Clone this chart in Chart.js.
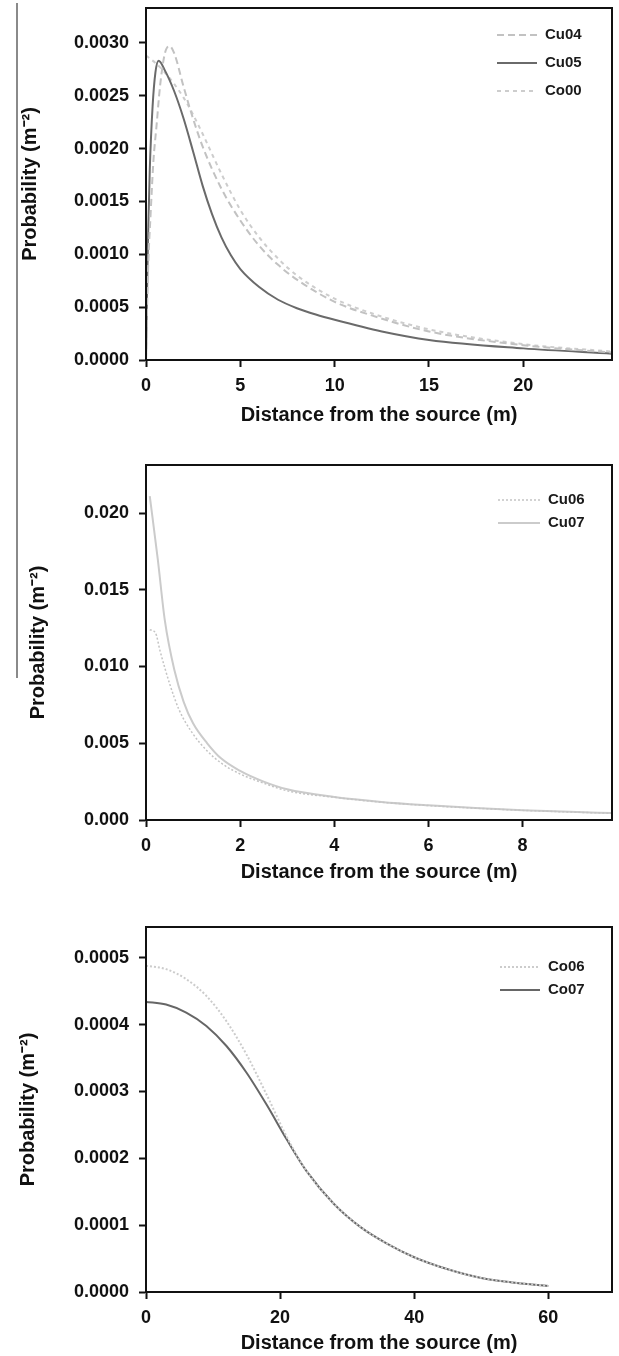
<!DOCTYPE html>
<html>
<head>
<meta charset="utf-8">
<script src="https://cdn.jsdelivr.net/npm/chart.js@4.4.0/dist/chart.umd.min.js"></script>
<style>
  body { margin: 0; background: #fff; width: 619px; height: 1356px; position: relative; overflow: hidden; }
  canvas { position: absolute; left: 0; }
  .rule { position: absolute; left: 16px; top: 3px; width: 2px; height: 675px; background: #8a8a8a; }
</style>
</head>
<body>
<div class="rule"></div>
<canvas id="c1" width="619" height="440" style="top:0"></canvas>
<canvas id="c2" width="619" height="460" style="top:440px"></canvas>
<canvas id="c3" width="619" height="456" style="top:900px"></canvas>
<script>
// panel 1
var distCu04 = [0, 0.1, 0.25, 0.4, 0.55, 0.75, 1.0, 1.25, 1.5, 2, 2.5, 3, 4, 5, 6, 7, 8, 10, 12, 15, 20, 24.7];
var probCu04 = [0, 0.0008, 0.0014, 0.0019, 0.0022, 0.0026, 0.0029, 0.00297, 0.0029, 0.00258, 0.00228, 0.00202, 0.00162, 0.00132, 0.00108, 0.0009, 0.00076, 0.00055, 0.00042, 0.00027, 0.00014, 0.00007];
var distCu05 = [0, 0.1, 0.2, 0.35, 0.5, 0.67, 1, 1.5, 2, 2.5, 3, 3.5, 4, 4.5, 5, 6, 7, 8, 9, 10, 12.5, 15, 20, 24.7];
var probCu05 = [0, 0.0011, 0.0018, 0.0024, 0.00272, 0.00283, 0.00274, 0.00254, 0.00228, 0.00197, 0.00165, 0.00138, 0.00116, 0.00099, 0.00086, 0.00069, 0.00057, 0.00049, 0.00043, 0.00038, 0.00027, 0.00019, 0.00011, 0.00006];
var distCo00 = [0, 0.5, 1, 1.5, 2, 2.5, 3, 4, 5, 6, 7, 8, 10, 12, 15, 20, 24.7];
var probCo00 = [0.00288, 0.00281, 0.00272, 0.00261, 0.00248, 0.00232, 0.00214, 0.00176, 0.00142, 0.00116, 0.00096, 0.0008, 0.00058, 0.00044, 0.00029, 0.00015, 0.00008];
// panel 2
var distCu06 = [0.08, 0.2, 0.3, 0.5, 0.7, 1, 1.3, 1.6, 2, 2.5, 3, 4, 5, 6, 7, 8, 9, 9.9];
var probCu06 = [0.0124, 0.0122, 0.011, 0.0089, 0.0072, 0.0056, 0.0045, 0.0037, 0.003, 0.0024, 0.0019, 0.00148, 0.00116, 0.00094, 0.00077, 0.00063, 0.00052, 0.00044];
var distCu07 = [0.08, 0.25, 0.4, 0.6, 0.8, 1, 1.3, 1.6, 2, 2.5, 3, 4, 5, 6, 7, 8, 9, 9.9];
var probCu07 = [0.0211, 0.017, 0.013, 0.0098, 0.0077, 0.0063, 0.005, 0.004, 0.0032, 0.0025, 0.002, 0.0015, 0.00118, 0.00096, 0.00078, 0.00064, 0.00053, 0.00045];
// panel 3
var distCo = [0, 3, 6, 9, 12, 15, 18, 21, 24, 28, 32, 36, 40, 45, 50, 55, 60];
var probCo06 = [0.000488, 0.000483, 0.000468, 0.000443, 0.000405, 0.000355, 0.000295, 0.000232, 0.00018, 0.000132, 0.000097, 0.000072, 0.000052, 0.000034, 0.000021, 0.000014, 0.000009];
var probCo07 = [0.000434, 0.00043, 0.000418, 0.000398, 0.000368, 0.000328, 0.00028, 0.000228, 0.00018, 0.000132, 0.000097, 0.000072, 0.000052, 0.000034, 0.000021, 0.000014, 0.000009];

var FAMILY = "'Liberation Sans', Arial, sans-serif";
var tickFont = { family: FAMILY, size: 18, weight: 'bold' };
var titleFont = { family: FAMILY, size: 20, weight: 'bold' };

function pts(xs, ys) {
  return xs.map(function (x, i) { return { x: x, y: ys[i] }; });
}

function series(label, xs, ys, color, width, dash) {
  return { label: label, data: pts(xs, ys), borderColor: color, borderWidth: width, borderDash: dash, fill: false };
}

// box round the plot area
var frame = {
  id: 'frame',
  afterDatasetsDraw: function (chart) {
    var ctx = chart.ctx, a = chart.chartArea;
    ctx.save();
    ctx.strokeStyle = '#111';
    ctx.lineWidth = 2;
    ctx.strokeRect(a.left, a.top, a.right - a.left, a.bottom - a.top);
    ctx.restore();
  }
};

// legend drawn inside the plot, top right
var boxLegend = {
  id: 'boxLegend',
  afterDraw: function (chart, args, opts) {
    var ctx = chart.ctx, a = chart.chartArea;
    ctx.save();
    ctx.font = 'bold 15px ' + FAMILY;
    ctx.textBaseline = 'middle';
    chart.data.datasets.forEach(function (ds, i) {
      var y = a.top + opts.top + i * opts.gap;
      var x0 = a.left + opts.left;
      ctx.strokeStyle = ds.borderColor;
      ctx.lineWidth = ds.borderWidth;
      ctx.setLineDash(ds.borderDash || []);
      ctx.beginPath();
      ctx.moveTo(x0, y);
      ctx.lineTo(x0 + opts.len, y);
      ctx.stroke();
      ctx.setLineDash([]);
      ctx.fillStyle = '#1a1a1a';
      ctx.fillText(ds.label, x0 + opts.len + 8, y);
    });
    ctx.restore();
  }
};

function makeChart(id, sets, o) {
  var axisGrid = { display: true, drawOnChartArea: false, drawTicks: true, tickLength: 7, tickColor: '#111', tickWidth: 2 };
  return new Chart(document.getElementById(id), {
    type: 'line',
    data: { datasets: sets },
    options: {
      responsive: false,
      animation: false,
      devicePixelRatio: 1,
      layout: { padding: { top: o.padTop, right: 7, left: 0, bottom: 0 } },
      elements: { point: { radius: 0 }, line: { cubicInterpolationMode: 'monotone' } },
      plugins: { legend: { display: false }, tooltip: { enabled: false }, boxLegend: o.legend },
      scales: {
        x: {
          type: 'linear', min: 0, max: o.xMax,
          afterFit: function (s) { s.height = o.xAxisH; s.paddingLeft = 0; s.paddingRight = 0; },
          ticks: { stepSize: o.xStep, includeBounds: false, padding: 8, color: '#111', font: tickFont, maxRotation: 0 },
          grid: axisGrid,
          border: { color: '#111', width: 2 },
          title: { display: true, text: 'Distance from the source (m)', color: '#111', font: titleFont, padding: { top: 0, bottom: o.xTitlePad } }
        },
        y: {
          type: 'linear', min: 0, max: o.yMax,
          afterFit: function (s) { s.width = 146; s.paddingTop = 0; s.paddingBottom = 0; },
          ticks: { stepSize: o.yStep, includeBounds: false, padding: 10, color: '#111', font: tickFont,
            callback: function (v) { return v.toFixed(o.dec); } },
          grid: axisGrid,
          border: { color: '#111', width: 2 },
          title: { display: true, text: 'Probability (m\u207B\u00B2)', color: '#111', font: titleFont, padding: { top: o.yTitlePad, bottom: 0 } }
        }
      }
    },
    plugins: [frame, boxLegend]
  });
}

makeChart('c1', [
  series('Cu04', distCu04, probCu04, '#c2c2c2', 2, [7, 4]),
  series('Cu05', distCu05, probCu05, '#6a6a6a', 2, []),
  series('Co00', distCo00, probCo00, '#cdcdcd', 2, [4, 4])
], { padTop: 8, xMax: 24.7, xStep: 5, xAxisH: 80, xTitlePad: 13, yMax: 0.00333, yStep: 0.0005, dec: 4, yTitlePad: 18,
     legend: { left: 351, len: 40, top: 27, gap: 28 } });

makeChart('c2', [
  series('Cu06', distCu06, probCu06, '#c4c4c4', 1.5, [2, 2]),
  series('Cu07', distCu07, probCu07, '#cbcbcb', 2, [])
], { padTop: 25, xMax: 9.9, xStep: 2, xAxisH: 80, xTitlePad: 16, yMax: 0.02313, yStep: 0.005, dec: 3, yTitlePad: 26,
     legend: { left: 352, len: 42, top: 35, gap: 23 } });

makeChart('c3', [
  series('Co06', distCo, probCo06, '#cccccc', 2, [2, 2]),
  series('Co07', distCo, probCo07, '#666666', 2, [])
], { padTop: 27, xMax: 69.5, xStep: 20, xAxisH: 64, xTitlePad: 1, yMax: 0.000546, yStep: 0.0001, dec: 4, yTitlePad: 16,
     legend: { left: 354, len: 40, top: 40, gap: 23 } });
</script>
</body>
</html>
